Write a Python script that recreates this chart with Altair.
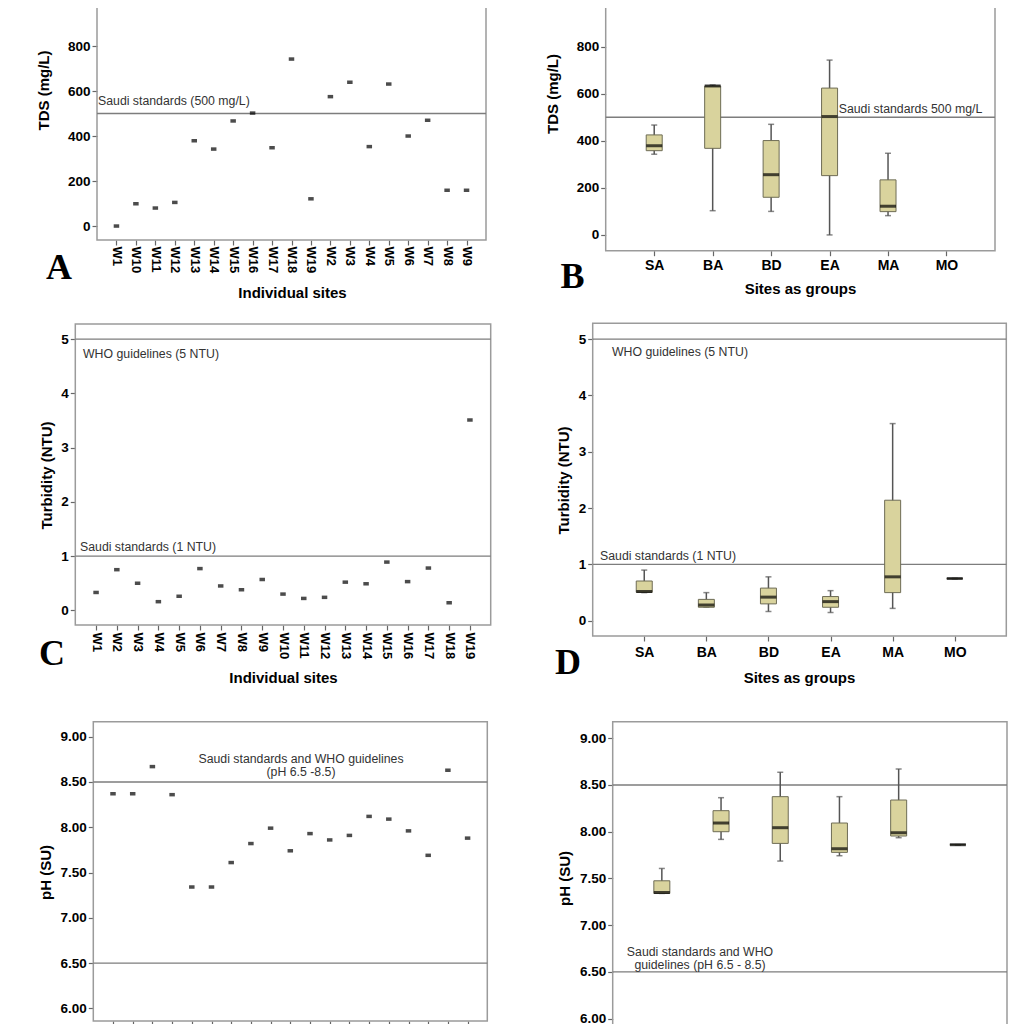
import altair as alt
import pandas as pd

# ---------------- data ----------------
sites_tds = ["W1", "W10", "W11", "W12", "W13", "W14", "W15", "W16", "W17", "W18",
             "W19", "W2", "W3", "W4", "W5", "W6", "W7", "W8", "W9"]
tds_values = [0, 99, 80, 105, 379, 342, 467, 502, 348, 742,
              121, 575, 639, 353, 631, 400, 470, 159, 159]

sites = ["W1", "W2", "W3", "W4", "W5", "W6", "W7", "W8", "W9", "W10",
         "W11", "W12", "W13", "W14", "W15", "W16", "W17", "W18", "W19"]
turbidity_values = [0.33, 0.75, 0.50, 0.16, 0.26, 0.77, 0.45, 0.38, 0.57, 0.30,
                    0.22, 0.24, 0.52, 0.49, 0.89, 0.53, 0.78, 0.14, 3.51]
ph_values = [8.37, 8.37, 8.67, 8.36, 7.34, 7.34, 7.61, 7.82, 7.99, 7.74,
             7.93, 7.86, 7.91, 8.12, 8.09, 7.96, 7.69, 8.63, 7.88]

groups = ["SA", "BA", "BD", "EA", "MA", "MO"]
tds_min = [343, 103, 100, 0, 82, None]
tds_q1 = [358, 368, 160, 252, 99, None]
tds_med = [379, 633, 256, 503, 122, None]
tds_q3 = [425, 633, 401, 624, 234, None]
tds_max = [467, 637, 470, 743, 347, None]

turb_min = [0.50, 0.24, 0.165, 0.147, 0.22, 0.75]
turb_q1 = [0.506, 0.24, 0.30, 0.24, 0.50, 0.75]
turb_med = [0.52, 0.28, 0.42, 0.34, 0.78, 0.75]
turb_q3 = [0.706, 0.38, 0.58, 0.43, 2.14, 0.75]
turb_max = [0.90, 0.50, 0.78, 0.535, 3.50, 0.75]

ph_min = [7.34, 7.918, 7.686, 7.743, 7.936, 7.861]
ph_q1 = [7.34, 8.00, 7.875, 7.779, 7.954, 7.861]
ph_med = [7.35, 8.093, 8.043, 7.818, 7.989, 7.861]
ph_q3 = [7.475, 8.225, 8.375, 8.093, 8.339, 7.861]
ph_max = [7.607, 8.364, 8.636, 8.375, 8.671, 7.861]

tds_ticks = [0, 200, 400, 600, 800, 1000]
turb_ticks = [0, 1, 2, 3, 4, 5]
ph_ticks = [6.0, 6.5, 7.0, 7.5, 8.0, 8.5, 9.0]

# ---------------- styling / layout ----------------
W, H = 1008, 1016
FONT = "Liberation Sans"
FRAME = "#9b9b9b"
REF = "#7d7d7d"
TICK = "#666666"
BOXFILL = "#d9d39d"
BOXSTROKE = "#6e6c55"
WHISK = "#555555"
NOTE = "#333333"


def yscale(dom, rng):
    return alt.Scale(domain=list(dom), range=list(rng), nice=False, zero=False)


def y_axis(left, values, fmt, title, tx, ty):
    return alt.Axis(orient="left", offset=-left, values=values, format=fmt,
                    title=title, titleX=tx, titleY=ty, titleAngle=270,
                    titleAlign="center", titleBaseline="middle",
                    titleFont=FONT, titleFontSize=15, titleFontWeight="bold", titleColor="black",
                    labelFont=FONT, labelFontSize=13.5, labelFontWeight="bold", labelColor="black",
                    labelPadding=2, tickSize=5, tickColor=TICK, tickWidth=1.2,
                    domain=False, grid=False, labelOverlap=False)


def x_axis(bottom, title, tx, ty, angle, pad, fsize, labels=True):
    if angle == 90:
        kw = dict(labelAlign="left", labelBaseline="middle")
    else:
        kw = dict(labelAlign="center", labelBaseline="top")
    if labels:
        kw.update(title=title, titleX=tx, titleY=ty, titleAngle=0, titleAlign="center",
                  titleBaseline="middle", titleFont=FONT, titleFontSize=15,
                  titleFontWeight="bold", titleColor="black")
    else:
        kw.update(title="")
    return alt.Axis(orient="bottom", offset=bottom - H, labels=labels,
                    labelAngle=angle, labelFont=FONT, labelFontSize=fsize, labelFontWeight="bold",
                    labelColor="black", labelPadding=pad, tickSize=5, tickColor=TICK, tickWidth=1.2,
                    domain=False, grid=False, labelOverlap=False, **kw)


def frame(xr, ydom, yr, refs, notes):
    xs = alt.Scale(domain=[0, 1], range=list(xr), nice=False, zero=False)
    ys = yscale(ydom, yr)
    fdf = pd.DataFrame({"a": [0], "b": [1], "lo": [ydom[0]], "hi": [ydom[1]]})
    box = alt.Chart(fdf).mark_rect(fillOpacity=0, stroke=FRAME, strokeWidth=1.5).encode(
        x=alt.X("a:Q", scale=xs, axis=None), x2="b:Q",
        y=alt.Y("lo:Q", scale=ys, axis=None), y2="hi:Q")
    rdf = pd.DataFrame({"v": refs, "a": [0] * len(refs), "b": [1] * len(refs)})
    rules = alt.Chart(rdf).mark_rule(color=REF, strokeWidth=1.3).encode(
        x=alt.X("a:Q", scale=xs, axis=None), x2="b:Q",
        y=alt.Y("v:Q", scale=ys, axis=None))
    layers = [box, rules]
    for txt, v, px, dy, align in notes:
        layers.append(
            alt.Chart(pd.DataFrame({"t": [txt], "v": [v]})).mark_text(
                align=align, baseline="middle", dy=dy, font=FONT, fontSize=12.3, color=NOTE
            ).encode(x=alt.value(px), y=alt.Y("v:Q", scale=ys, axis=None), text="t:N"))
    return alt.layer(*layers)


def scatter(cats, vals, xr, pad, ydom, yr, yax, xax):
    xs = alt.Scale(type="point", domain=cats, range=list(xr), padding=pad)
    df = pd.DataFrame({"site": cats, "v": vals})
    return alt.Chart(df).mark_tick(color="black", size=5.5, thickness=3.5).encode(
        x=alt.X("site:N", scale=xs, axis=xax, sort=None),
        y=alt.Y("v:Q", scale=yscale(ydom, yr), axis=yax))


def boxes(lo, q1, med, q3, hi, xr, ydom, yr, yax, xax):
    df = pd.DataFrame({"g": groups, "lo": lo, "q1": q1, "med": med, "q3": q3, "hi": hi}).dropna()
    xs = alt.Scale(type="point", domain=groups, range=list(xr), padding=0.83)
    ys = yscale(ydom, yr)
    base = alt.Chart(df)

    def X():
        return alt.X("g:N", scale=xs, axis=xax, sort=None)

    def Y(f):
        return alt.Y(f, scale=ys, axis=yax)

    whisk = base.mark_rule(color=WHISK, strokeWidth=1.5).encode(
        x=X(), y=Y("lo:Q"), y2="hi:Q")
    cap_hi = base.mark_tick(color=WHISK, size=6, thickness=1.5).encode(x=X(), y=Y("hi:Q"))
    cap_lo = base.mark_tick(color=WHISK, size=6, thickness=1.5).encode(x=X(), y=Y("lo:Q"))
    box = base.mark_bar(size=16, color=BOXFILL, stroke=BOXSTROKE, strokeWidth=1).encode(
        x=X(), y=Y("q1:Q"), y2="q3:Q")
    medl = base.mark_tick(color="black", size=16, thickness=3).encode(x=X(), y=Y("med:Q"))
    return alt.layer(whisk, cap_hi, cap_lo, box, medl)


def letter(ch, px, py):
    return alt.Chart(pd.DataFrame({"t": [ch]})).mark_text(
        font="Liberation Serif", fontSize=36, fontWeight="bold", color="black",
        align="center", baseline="middle").encode(x=alt.value(px), y=alt.value(py), text="t:N")


layers = []

# Panel A
xA, yA, dA = (89, 478), (232, -7), (-62, 1000)
layers.append(frame(xA, dA, yA, [500], [("Saudi standards (500 mg/L)", 500, 90, -12.5, "left")]))
layers.append(scatter(sites_tds, tds_values, xA, 1.55, dA, yA,
                      y_axis(xA[0], tds_ticks, "d", "TDS (mg/L)", -54, 82),
                      x_axis(yA[0], "Individual sites", 284, 52, 90, 1, 13)))

# Panel B
xB, yB, dB = (597.7, 987), (242.7, -8.4), (-67, 1000)
layers.append(frame(xB, dB, yB, [500], [("Saudi standards 500 mg/L", 500, 830.7, -8.7, "left")]))
layers.append(boxes(tds_min, tds_q1, tds_med, tds_q3, tds_max, xB, dB, yB,
                    y_axis(xB[0], tds_ticks, "d", "TDS (mg/L)", -53.7, 85.5),
                    x_axis(yB[0], "Sites as groups", 792, 37.3, 0, 3, 14)))

# Panel C
xC, yC, dC = (67.3, 482.7), (617, 316), (-0.27, 5.28)
layers.append(frame(xC, dC, yC, [1, 5], [("WHO guidelines (5 NTU)", 5, 75, 15, "left"),
                                         ("Saudi standards (1 NTU)", 1, 72, -9, "left")]))
layers.append(scatter(sites, turbidity_values, xC, 1.56, dC, yC,
                      y_axis(xC[0], turb_ticks, "d", "Turbidity (NTU)", -29.3, 467),
                      x_axis(yC[0], "Individual sites", 275, 52, 90, 2, 13)))

# Panel D
xD, yD, dD = (584.7, 998.3), (628, 315.3), (-0.27, 5.28)
layers.append(frame(xD, dD, yD, [1, 5], [("WHO guidelines (5 NTU)", 5, 604, 13, "left"),
                                         ("Saudi standards (1 NTU)", 1, 592, -8, "left")]))
layers.append(boxes(turb_min, turb_q1, turb_med, turb_q3, turb_max, xD, dD, yD,
                    y_axis(xD[0], turb_ticks, "d", "Turbidity (NTU)", -29.7, 472),
                    x_axis(yD[0], "Sites as groups", 791, 41, 0, 4, 14)))

# Panel E (bottom of the panel is cropped in the figure)
xE, yE, dE = (85.3, 479.3), (1013, 713.7), (5.86, 9.166)
layers.append(frame(xE, dE, yE, [6.5, 8.5], [("Saudi standards and WHO guidelines", 8.5, 293, -22.5, "center"),
                                             ("(pH 6.5 -8.5)", 8.5, 293, -9.5, "center")]))
layers.append(scatter(sites, ph_values, xE, 1.545, dE, yE,
                      y_axis(xE[0], ph_ticks, ".2f", "pH (SU)", -48, 864),
                      x_axis(yE[0], "Individual sites", 274, 60, 90, 2, 13, labels=False)))

# Panel F (bottom of the panel is cropped in the figure)
xF, yF, dF = (604.7, 999), (1020, 713.7), (5.90, 9.177)
layers.append(frame(xF, dF, yF, [6.5, 8.5], [("Saudi standards and WHO", 6.5, 692, -20, "center"),
                                             ("guidelines (pH 6.5 - 8.5)", 6.5, 692, -7, "center")]))
layers.append(boxes(ph_min, ph_q1, ph_med, ph_q3, ph_max, xF, dF, yF,
                    y_axis(xF[0], ph_ticks, ".2f", "pH (SU)", -48.2, 870),
                    x_axis(yF[0], "Sites as groups", 794, 40, 0, 4, 14, labels=False)))

# panel letters
layers += [letter("A", 51, 259.5), letter("B", 564.5, 269),
           letter("C", 44, 646), letter("D", 560, 655)]

chart = alt.layer(*layers).resolve_scale(
    x="independent", y="independent"
).properties(
    width=W, height=H, padding=0, autosize=alt.AutoSizeParams(type="none")
).configure_view(strokeWidth=0)

chart.save("out.html", embed_options={"renderer": "svg", "actions": False})
